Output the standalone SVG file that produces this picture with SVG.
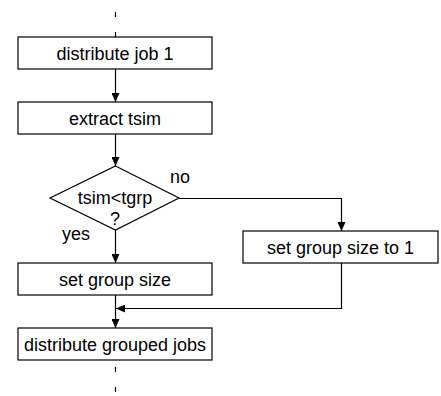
<svg xmlns="http://www.w3.org/2000/svg" width="441" height="396" viewBox="0 0 441 396">
<style>
.box{fill:#fff;stroke:#000;stroke-width:1.2}
.t{font-family:"Liberation Sans",Arial,sans-serif;font-size:18px;fill:#000;text-anchor:middle}
.l{font-family:"Liberation Sans",Arial,sans-serif;font-size:18px;fill:#000}
.c{fill:none;stroke:#000;stroke-width:1.2}
</style>
<defs>
<marker id="a" markerWidth="10" markerHeight="8" refX="9" refY="4" orient="auto" markerUnits="userSpaceOnUse">
<path d="M0,0 L9,4 L0,8 Z" fill="#000"/>
</marker>
</defs>
<g id="connectors">
<path class="c" d="M115.5,37 V0" stroke-dasharray="5 15"/>
<path class="c" d="M115.5,360 V396" stroke-dasharray="5 15" stroke-dashoffset="13"/>
<path class="c" d="M115.5,69 V102" marker-end="url(#a)"/>
<path class="c" d="M115.5,134 V166" marker-end="url(#a)"/>
<path class="c" d="M115.5,230 V263" marker-end="url(#a)"/>
<path class="c" d="M115.5,295 V328" marker-end="url(#a)"/>
<path class="c" d="M179,198.5 H341.5 V231" marker-end="url(#a)"/>
<path class="c" d="M341.5,263 V308.5 H116" marker-end="url(#a)"/>
</g>
<g id="n1"><rect class="box" x="18" y="37" width="194" height="32"/><text class="t" x="115" y="60">distribute job 1</text></g>
<g id="n2"><rect class="box" x="18" y="102" width="194" height="32"/><text class="t" x="115" y="125">extract tsim</text></g>
<g id="n3"><path class="box" d="M115.5,166 L179,198 L115.5,230 L50,198 Z"/><text class="t" x="115" y="204">tsim&lt;tgrp</text><text class="t" x="115" y="225">?</text></g>
<g id="n4"><rect class="box" x="18" y="263" width="194" height="32"/><text class="t" x="115" y="286">set group size</text></g>
<g id="n5"><rect class="box" x="243" y="231" width="195" height="32"/><text class="t" x="340.5" y="254">set group size to 1</text></g>
<g id="n6"><rect class="box" x="18" y="328" width="194" height="32"/><text class="t" x="115" y="351">distribute grouped jobs</text></g>
<text class="l" x="170" y="183">no</text>
<text class="l" x="62" y="240">yes</text>
</svg>
